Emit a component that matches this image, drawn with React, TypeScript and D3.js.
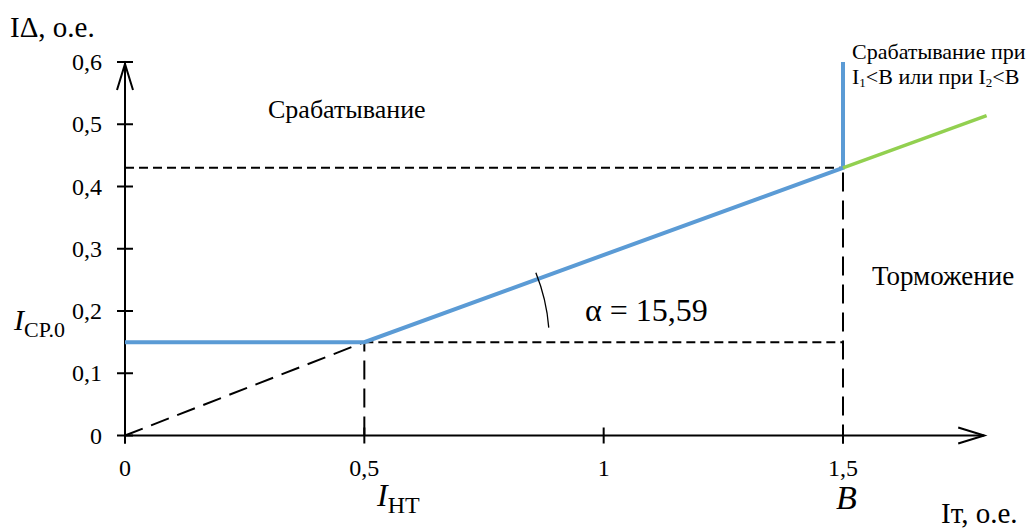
import React from "react";
import * as d3 from "d3";

const xTicks = [0, 0.5, 1, 1.5];
const xTickLabels = ["0", "0,5", "1", "1,5"];
const yTicks = [0, 0.1, 0.2, 0.3, 0.4, 0.5, 0.6];
const yTickLabels = ["0", "0,1", "0,2", "0,3", "0,4", "0,5", "0,6"];

const Icp0 = 0.15;
const Int = 0.5;
const Bval = 1.5;
const IatB = 0.43;
const xEnd = 1.8;
const yEndGreen = 0.514;
const xAxisMax = 1.795;
const yAxisMax = 0.6;

const bluePath: [number, number][] = [
  [0, Icp0],
  [Int, Icp0],
  [Bval, IatB],
  [Bval, yAxisMax],
];
const greenPath: [number, number][] = [
  [Bval, IatB],
  [xEnd, yEndGreen],
];

const FONT = '"Liberation Serif", Tinos, "Times New Roman", "DejaVu Serif", serif';
const T: React.CSSProperties = { fontFamily: FONT };

export default function App() {
  const x = d3.scaleLinear().domain([0, 1.5]).range([125, 843]);
  const y = d3.scaleLinear().domain([0, 0.6]).range([435.5, 62]);
  const line = d3
    .line<[number, number]>()
    .x((d) => x(d[0]))
    .y((d) => y(d[1]));

  const x0 = x(0);
  const y0 = y(0);
  const xMax = x(xAxisMax);
  const yTop = y(yAxisMax);

  const cx = x(Int);
  const cy = y(Icp0);
  const r = 185;
  const a1 = (4.5 * Math.PI) / 180;
  const a2 = (22 * Math.PI) / 180;
  const arcPath = `M${cx + r * Math.cos(a1)},${cy - r * Math.sin(a1)} A${r},${r} 0 0 0 ${
    cx + r * Math.cos(a2)
  },${cy - r * Math.sin(a2)}`;

  return (
    <svg
      width={1031}
      height={528}
      style={{ position: "absolute", left: 0, top: 0, background: "#fff", fontFamily: FONT }}
    >
      <rect width={1031} height={528} fill="#fff" />
      <g stroke="#000" strokeWidth={2} fill="none">
        <line x1={x0} y1={y(IatB)} x2={x(Bval)} y2={y(IatB)} strokeDasharray="9,5" />
        <line x1={x(Int)} y1={y(Icp0)} x2={x(Bval)} y2={y(Icp0)} strokeDasharray="9,5" />
        <line x1={x(Int)} y1={y0} x2={x(Int)} y2={y(Icp0)} strokeDasharray="19,9" />
        <line x1={x(Bval)} y1={y0 + 8} x2={x(Bval)} y2={y(IatB)} strokeDasharray="19,9" />
        <line x1={x0} y1={y0} x2={x(Int)} y2={y(Icp0)} strokeDasharray="19,9" />
      </g>

      <g stroke="#000" strokeWidth={2} fill="none">
        <line x1={x0} y1={y0 + 8} x2={x0} y2={yTop} />
        <line x1={x0} y1={y0} x2={xMax} y2={y0} />
        <polyline points={`${x0 - 8},${yTop + 28} ${x0},${yTop + 2} ${x0 + 8},${yTop + 28}`} />
        <polyline points={`${xMax - 26},${y0 - 8} ${xMax},${y0} ${xMax - 26},${y0 + 8}`} />
        {yTicks.map((v) => (
          <line key={"yt" + v} x1={x0 - 8} x2={x0 + 8} y1={y(v)} y2={y(v)} />
        ))}
        {xTicks.map((v) => (
          <line key={"xt" + v} x1={x(v)} x2={x(v)} y1={y0 - 8} y2={y0 + 8} />
        ))}
      </g>

      <path d={line(bluePath) || ""} stroke="#5B9BD5" strokeWidth={4} fill="none" />
      <path d={line(greenPath) || ""} stroke="#92D050" strokeWidth={3.5} fill="none" />

      <path d={arcPath} stroke="#000" strokeWidth={1.3} fill="none" />

      <g fill="#000">
        {yTicks.map((v, i) => (
          <text key={"yl" + v} x={102} y={y(v) + 8} textAnchor="end" fontSize={24} style={T}>
            {yTickLabels[i]}
          </text>
        ))}
        {xTicks.map((v, i) => (
          <text key={"xl" + v} x={x(v)} y={476} textAnchor="middle" fontSize={24} style={T}>
            {xTickLabels[i]}
          </text>
        ))}
      </g>

      <rect x={0} y={300} width={71} height={42} fill="#fff" />
      <text x={14} y={330} fill="#000" style={T}>
        <tspan fontSize={30} fontStyle="italic">I</tspan>
        <tspan fontSize={22} dy={7}>CP.0</tspan>
      </text>

      <text x={10} y={37} fontSize={29} fill="#000" style={T}>IΔ, o.e.</text>
      <text x={941} y={523} fontSize={29} fill="#000" style={T}>Iт, o.e.</text>

      <text x={268} y={118} fontSize={26} fill="#000" style={T}>Срабатывание</text>
      <text x={872} y={285} fontSize={27} fill="#000" style={T}>Торможение</text>
      <text x={852} y={59} fontSize={22} fill="#000" style={T}>Срабатывание при</text>
      <text x={852} y={84} fontSize={22} fill="#000" style={T}>
        I<tspan fontSize={13} dy={3}>1</tspan>
        <tspan dy={-3}>&lt;B или при I</tspan>
        <tspan fontSize={13} dy={3}>2</tspan>
        <tspan dy={-3}>&lt;B</tspan>
      </text>

      <text x={585} y={321} fontSize={32} fill="#000" style={T}>α = 15,59</text>

      <text x={377} y={506} fill="#000" style={T}>
        <tspan fontSize={32} fontStyle="italic">I</tspan>
        <tspan fontSize={24} dy={7}>HT</tspan>
      </text>
      <text x={836} y={509} fontSize={34} fontStyle="italic" fill="#000" style={T}>B</text>
    </svg>
  );
}
